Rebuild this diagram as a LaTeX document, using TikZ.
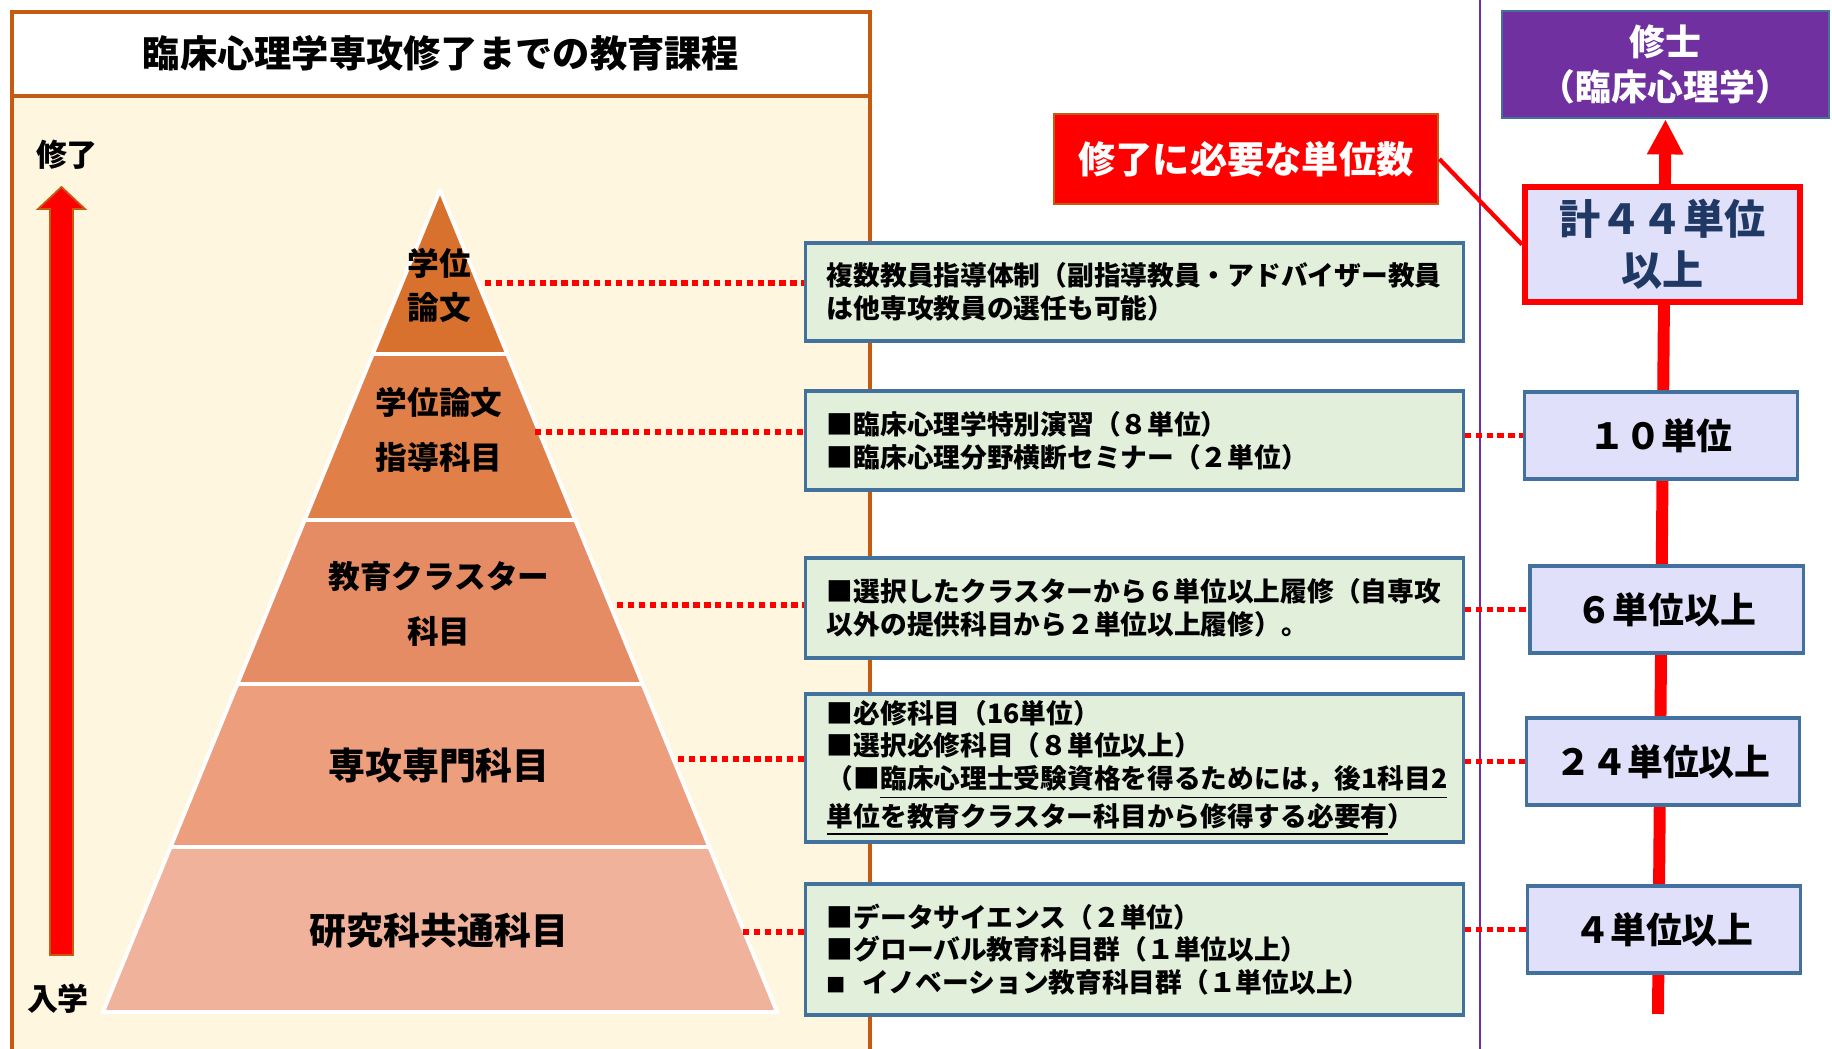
\documentclass[tikz,border=0pt]{standalone}
\usepackage{fontspec}
\setmainfont{Noto Sans CJK JP}
\usetikzlibrary{arrows.meta}

\definecolor{cream}{HTML}{FFF6E0}
\definecolor{frameorange}{HTML}{C55A11}
\definecolor{boxgreen}{HTML}{E2EFDA}
\definecolor{boxblue}{HTML}{41719C}
\definecolor{lavender}{HTML}{E0E0FA}
\definecolor{degpurple}{HTML}{7030A0}
\definecolor{navy}{HTML}{1F3864}
\definecolor{tierA}{HTML}{D7712D}
\definecolor{tierB}{HTML}{E07F47}
\definecolor{tierC}{HTML}{E68C64}
\definecolor{tierD}{HTML}{EC9E7D}
\definecolor{tierE}{HTML}{F1B29B}

\newcommand\fsz[2]{\fontsize{#1}{#2}\selectfont}
\setlength\lineskiplimit{-5pt}

\begin{document}
\begin{tikzpicture}[x=0.01cm, y=-0.01cm,
  gbox/.style={draw=boxblue, fill=boxgreen, line width=0.9pt, text width=6.15cm,
    inner xsep=0.21cm, inner ysep=0pt, align=left, font=\bfseries\fsz{7.6pt}{9.3pt}},
  ubox/.style={draw=boxblue, fill=lavender, line width=0.9pt, minimum width=2.73cm,
    minimum height=0.87cm, font=\bfseries\fsz{10.2pt}{12pt}},
  dotline/.style={red, line width=1.7pt, dash pattern=on 1.8pt off 1.3pt},
  tier/.style={font=\bfseries\fsz{9pt}{15.6pt}, align=center},
  bigtier/.style={font=\bfseries\fsz{10.5pt}{12pt}},
  side/.style={font=\bfseries\fsz{8.8pt}{10pt}}]

\useasboundingbox (0,0) rectangle (1832,1049);

% Left panel and its title
\fill[cream] (12,96) rectangle (870,1049);
\draw[frameorange, line width=0.9pt] (12,1049) -- (12,96) -- (870,96) -- (870,1049);
\draw[frameorange, line width=0.9pt, fill=white] (12,12) rectangle (870,96);
\node[font=\bfseries\fsz{10.6pt}{13pt}] (title) at (441,53) {臨床心理学専攻修了までの教育課程};

% Purple divider
\draw[degpurple, line width=0.7pt] (1480,0) -- (1480,1049);

% Arrow from entry to completion
\filldraw[fill=red, draw=frameorange, line width=0.5pt]
  (50,955) -- (50,209) -- (38,209) -- (61.5,187) -- (85,209) -- (73,209) -- (73,955) -- cycle;
\node[side] (start) at (58,999) {入学};
\node[side] (finish) at (67,155) {修了};

% Pyramid tiers
\foreach \ya/\yb/\col in {190/354/tierA, 354/520/tierB, 520/684/tierC, 684/847/tierD, 847/1012/tierE}
  \filldraw[fill=\col, draw=white, line width=1.1pt, line join=round]
    ({440-0.41*(\ya-190)},\ya) -- ({440+0.41*(\ya-190)},\ya)
    -- ({440+0.41*(\yb-190)},\yb) -- ({440-0.41*(\yb-190)},\yb) -- cycle;

\node[tier, font=\bfseries\fsz{9pt}{12.5pt}] (t1) at (439,285) {学位\\論文};
\node[tier] (t2) at (439,430) {学位論文\\指導科目};
\node[tier] (t3) at (439,604) {教育クラスター\\科目};
\node[bigtier] (t4) at (439,765) {専攻専門科目};
\node[bigtier] (t5) at (439,931) {研究科共通科目};

% Course boxes
\node[gbox, minimum height=0.98cm] (g1) at (1134.5,292)
  {複数教員指導体制（副指導教員・アドバイザー教員\\は他専攻教員の選任も可能）};
\node[gbox, minimum height=0.99cm] (g2) at (1134.5,440.5)
  {■臨床心理学特別演習（８単位）\\■臨床心理分野横断セミナー（２単位）};
\node[gbox, minimum height=1.00cm] (g3) at (1134.5,608)
  {■選択したクラスターから６単位以上履修（自専攻\\以外の提供科目から２単位以上履修）。};
\node[gbox, minimum height=1.48cm] (g4) at (1134.5,768)
  {■必修科目（16単位）\\■選択必修科目（８単位以上）\\
   （■\underline{臨床心理士受験資格を得るためには，後1科目2}\\
   \underline{単位を教育クラスター科目から修得する必要有}）};
\node[gbox, minimum height=1.31cm] (g5) at (1134.5,949.5)
  {■データサイエンス（２単位）\\■グローバル教育科目群（１単位以上）\\
   {\fsz{5.5pt}{9pt}■}\hspace{0.6em}イノベーション教育科目群（１単位以上）};

% Dotted links from the pyramid
\coordinate (e1) at (485,283);
\coordinate (e2) at (535,432);
\coordinate (e3) at (617,605);
\coordinate (e4) at (678,759);
\coordinate (e5) at (743,932);
\foreach \i in {1,...,5}
  \draw[dotline] (e\i) -- (e\i -| g\i.west);

% Degree and credit line
\node[draw=boxblue, line width=0.7pt, fill=degpurple, text=white, minimum width=3.27cm,
  minimum height=1.07cm, align=center, font=\bfseries\fsz{10.2pt}{12.8pt}] (deg)
  at (1665.5,64.5) {修士\\（臨床心理学）};
\coordinate (spinebot) at (1658,1014);
\draw[red, line width=3.4pt, -{Triangle[width=9.7pt,length=10pt]}] (spinebot) -- (deg.south);

\node[ubox] (u1) at (1661,435.5) {１０単位};
\node[ubox] (u2) at (1666.5,609.5) {６単位以上};
\node[ubox] (u3) at (1663,761.5) {２４単位以上};
\node[ubox] (u4) at (1664,929.5) {４単位以上};

\node[draw=red, line width=1.7pt, fill=lavender, text=navy, minimum width=2.75cm,
  minimum height=1.15cm, align=center, font=\bfseries\fsz{11.7pt}{14.5pt}] (total)
  at (1662.5,244.5) {計４４単位\\以上};

\node[draw=frameorange, line width=0.7pt, fill=red, text=white, minimum width=3.84cm,
  minimum height=0.9cm, font=\bfseries\fsz{10.6pt}{12pt}] (need) at (1246,159) {修了に必要な単位数};
\draw[red, line width=1.2pt] (need.east) -- (total.west);

% Dotted links to the credit boxes
\foreach \i/\j in {2/1, 3/2, 4/3, 5/4}
  \draw[dotline] (g\i.east |- u\j.west) -- (u\j.west);

\end{tikzpicture}
\end{document}
